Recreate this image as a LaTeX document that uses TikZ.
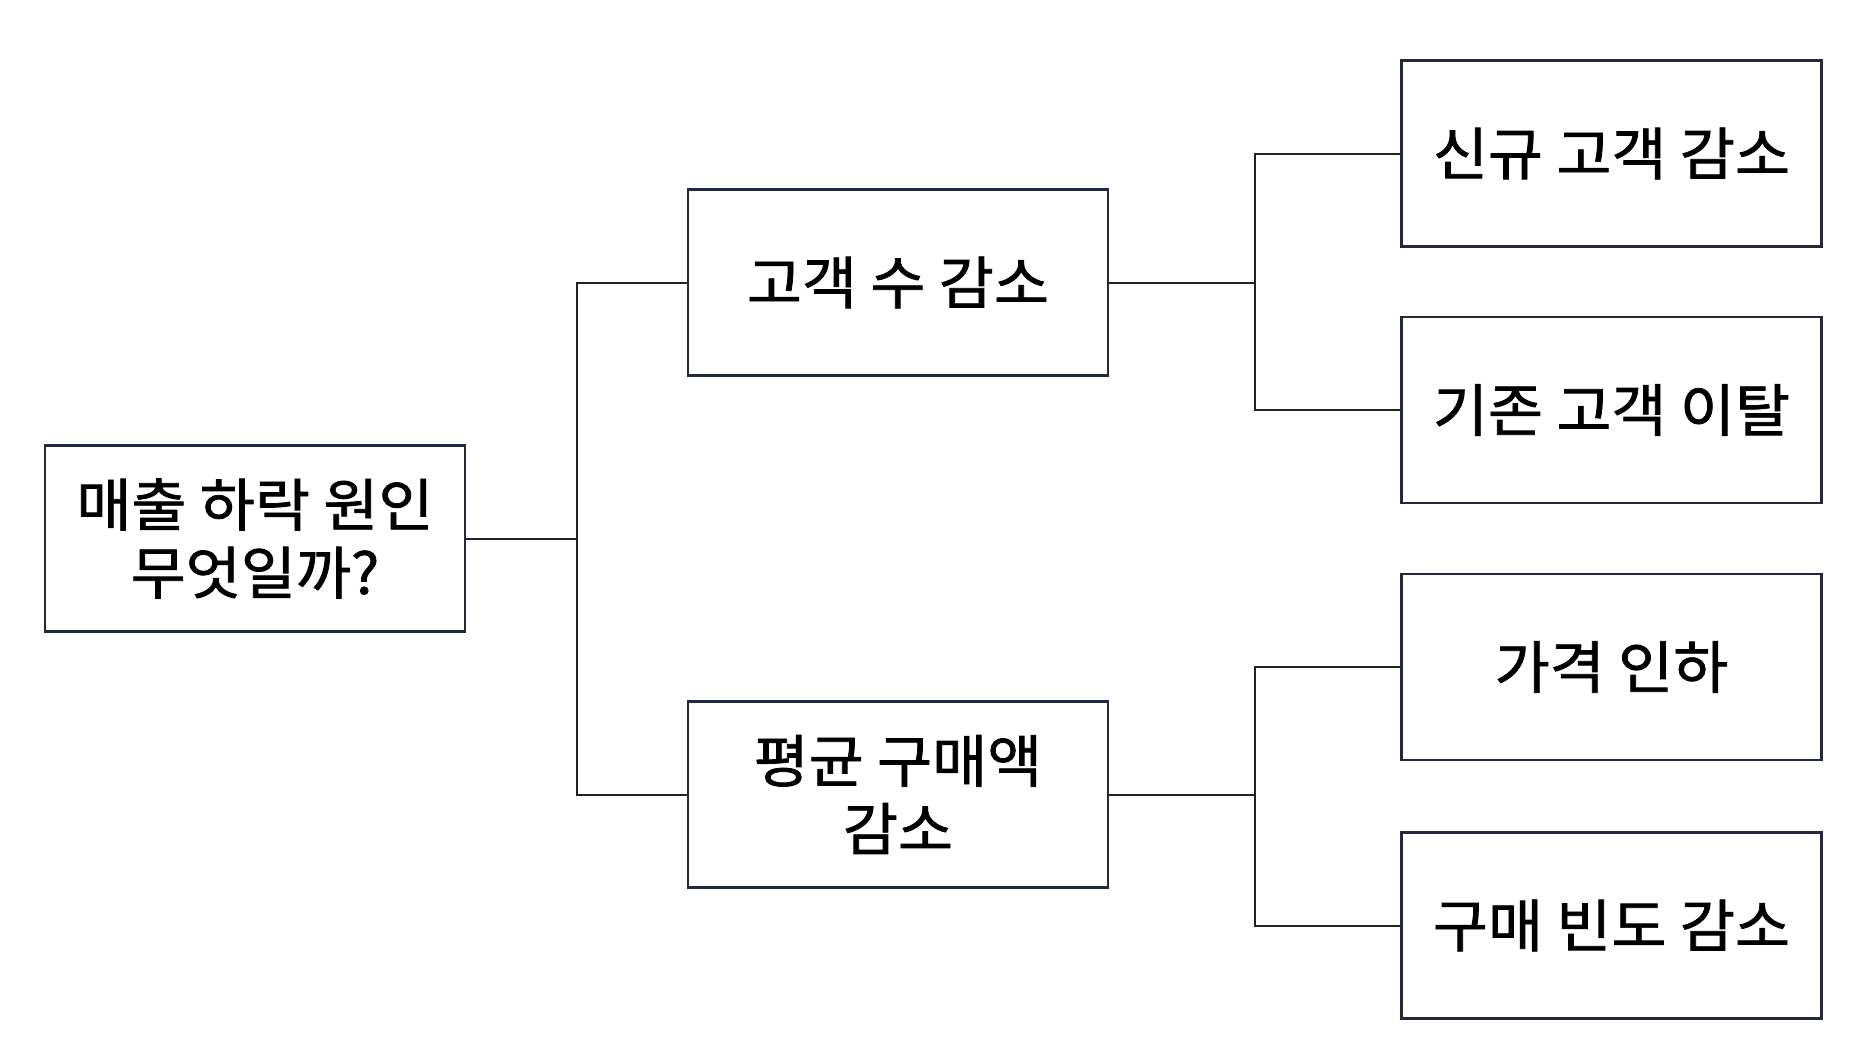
\documentclass[tikz,border=0pt]{standalone}
\usepackage{fontspec}
\usetikzlibrary{calc}
\newfontfamily\kr[FakeStretch=1.05,FakeBold=1.3]{Noto Sans CJK KR}
\definecolor{boxline}{HTML}{23283A}
\definecolor{conn}{HTML}{222222}
\begin{document}
\begin{tikzpicture}[x=1pt,y=-1pt,
  box/.style={draw=boxline, line width=2.8pt, fill=white, minimum width=420pt, minimum height=186pt,
    align=center, inner sep=0pt, font=\kr\fontsize{57}{68}\selectfont},
  link/.style={draw=conn, line width=2pt}]
\useasboundingbox (0,0) rectangle (1874,1060);
\fill[white] (0,0) rectangle (1874,1060);
\node[box] (root) at (255,538.5) {매출 하락 원인\\무엇일까?};
\node[box] (m1) at (898,282.5) {고객 수 감소};
\node[box] (m2) at (898,794.5) {평균 구매액\\감소};
\node[box] (r1) at (1611.5,153.5) {신규 고객 감소};
\node[box] (r2) at (1611.5,410) {기존 고객 이탈};
\node[box] (r3) at (1611.5,667) {가격 인하};
\node[box] (r4) at (1611.5,925.5) {구매 빈도 감소};
\coordinate (j0) at ($(root.east)!0.5!(m1.west)$);
\coordinate (j1) at ($(m1.east)!0.5!(r1.west)$);
\draw[link] (root.east) -- (root.east -| j0);
\draw[link] (m1.west) -- (m1.west -| j0) |- (m2.west);
\draw[link] (m1.east) -- (m1.east -| j1);
\draw[link] (r1.west) -- (r1.west -| j1) |- (r2.west);
\draw[link] (m2.east) -- (m2.east -| j1);
\draw[link] (r3.west) -- (r3.west -| j1) |- (r4.west);
\end{tikzpicture}
\end{document}
